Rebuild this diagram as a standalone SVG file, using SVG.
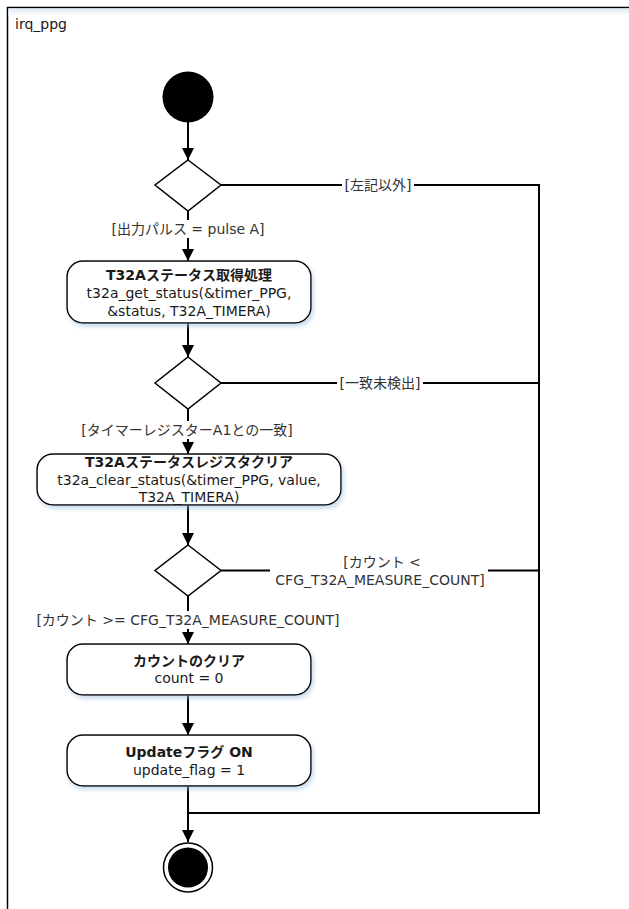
<svg xmlns="http://www.w3.org/2000/svg" width="629" height="909" viewBox="0 0 629 909">
  <defs>
    <style>
      text { font-family: "DejaVu Sans", "Noto Sans CJK JP", sans-serif; font-size: 14px; fill: #1a1a1a; }
      .lbl { fill: #333333; text-anchor: middle; dominant-baseline: central; }
      .nt { text-anchor: middle; dominant-baseline: central; }
      .b { font-weight: bold; }
      .act { fill: #ffffff; stroke: #000000; stroke-width: 1.5; }
      .dec { fill: #ffffff; stroke: #000000; stroke-width: 1.5; }
      .edge { fill: none; stroke: #000000; stroke-width: 2; }
      .bg { fill: #ffffff; stroke: none; }
    </style>
    <marker id="arr" viewBox="0 0 12 12" refX="12" refY="6" markerWidth="12" markerHeight="12" markerUnits="userSpaceOnUse" orient="auto">
      <path d="M0,0 L12,6 L0,12 z" fill="#000000"/>
    </marker>
    <filter id="sh" x="-10%" y="-10%" width="125%" height="140%">
      <feDropShadow dx="2" dy="3" stdDeviation="2" flood-color="#9fbde0" flood-opacity="0.55"/>
    </filter>
    <linearGradient id="fg" x1="0" y1="0" x2="0" y2="1">
      <stop offset="0" stop-color="#dde8f5"/>
      <stop offset="1" stop-color="#ffffff"/>
    </linearGradient>
  </defs>

  <g id="frame">
    <rect x="7.5" y="7.5" width="700" height="1000" fill="#ffffff" stroke="#000000" stroke-width="1.5"/>
    <rect x="8.5" y="8.5" width="700" height="7" fill="url(#fg)"/>
    <text x="15" y="24" dominant-baseline="central">irq_ppg</text>
  </g>

  <g id="connectors">
    <path class="edge" d="M188,122 V160" marker-end="url(#arr)"/>
    <path class="edge" d="M188,211 V261" marker-end="url(#arr)"/>
    <path class="edge" d="M188,323 V357" marker-end="url(#arr)"/>
    <path class="edge" d="M188,409 V454" marker-end="url(#arr)"/>
    <path class="edge" d="M188,505 V545" marker-end="url(#arr)"/>
    <path class="edge" d="M188,596 V644" marker-end="url(#arr)"/>
    <path class="edge" d="M188,695 V735" marker-end="url(#arr)"/>
    <path class="edge" d="M188,786 V842" marker-end="url(#arr)"/>
    <path class="edge" d="M221,185 H539 V813 H188"/>
    <path class="edge" d="M221,383 H539"/>
    <path class="edge" d="M221,570.5 H539"/>

    <rect class="bg" x="342" y="176" width="72" height="18"/>
    <text class="lbl" x="378" y="185">[左記以外]</text>
    <rect class="bg" x="108" y="220" width="160" height="18"/>
    <text class="lbl" x="188" y="229">[出力パルス = pulse A]</text>
    <rect class="bg" x="337" y="374" width="86" height="18"/>
    <text class="lbl" x="380" y="383">[一致未検出]</text>
    <rect class="bg" x="78" y="421" width="218" height="18"/>
    <text class="lbl" x="187" y="430">[タイマーレジスターA1との一致]</text>
    <rect class="bg" x="270" y="553" width="218" height="36"/>
    <text class="lbl" x="382" y="562">[カウント &lt;</text>
    <text class="lbl" x="380" y="580">CFG_T32A_MEASURE_COUNT]</text>
    <rect class="bg" x="32" y="611" width="312" height="18"/>
    <text class="lbl" x="188" y="620">[カウント &gt;= CFG_T32A_MEASURE_COUNT]</text>
  </g>

  <g id="start">
    <circle cx="188" cy="97" r="25.5" fill="#000000"/>
  </g>

  <g id="decision1">
    <polygon class="dec" points="188,160 221,185 188,211 155,185"/>
  </g>

  <g id="action1">
    <rect class="act" x="67" y="261" width="244" height="62" rx="16" ry="16" filter="url(#sh)"/>
    <text class="nt b" x="189" y="275">T32Aステータス取得処理</text>
    <text class="nt" x="189" y="293">t32a_get_status(&amp;timer_PPG,</text>
    <text class="nt" x="189" y="311">&amp;status, T32A_TIMERA)</text>
  </g>

  <g id="decision2">
    <polygon class="dec" points="188,357 221,383 188,409 155,383"/>
  </g>

  <g id="action2">
    <rect class="act" x="37" y="454" width="304" height="51" rx="16" ry="16" filter="url(#sh)"/>
    <text class="nt b" x="189" y="462">T32Aステータスレジスタクリア</text>
    <text class="nt" x="189" y="480">t32a_clear_status(&amp;timer_PPG, value,</text>
    <text class="nt" x="189" y="497">T32A_TIMERA)</text>
  </g>

  <g id="decision3">
    <polygon class="dec" points="188,545 221,570.5 188,596 155,570.5"/>
  </g>

  <g id="action3">
    <rect class="act" x="67" y="644" width="244" height="51" rx="16" ry="16" filter="url(#sh)"/>
    <text class="nt b" x="189" y="661">カウントのクリア</text>
    <text class="nt" x="189" y="678">count = 0</text>
  </g>

  <g id="action4">
    <rect class="act" x="67" y="735" width="244" height="51" rx="16" ry="16" filter="url(#sh)"/>
    <text class="nt b" x="189" y="752">Updateフラグ ON</text>
    <text class="nt" x="189" y="770">update_flag = 1</text>
  </g>

  <g id="final">
    <circle cx="188" cy="867.5" r="24.5" fill="#ffffff" stroke="#000000" stroke-width="1.5"/>
    <circle cx="188" cy="867.5" r="20" fill="#000000"/>
  </g>
</svg>
